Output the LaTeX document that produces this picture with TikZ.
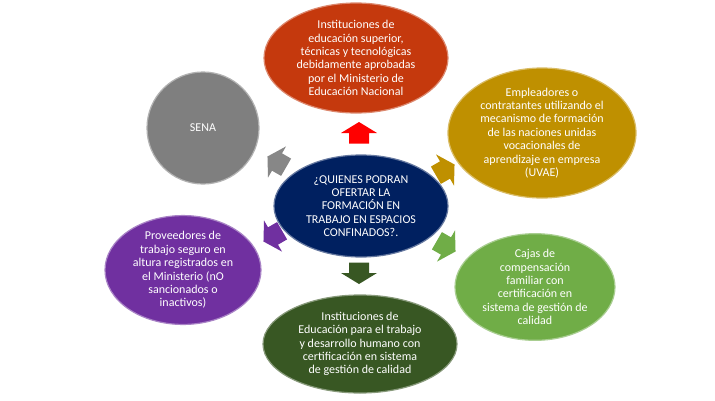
\documentclass[tikz,border=0pt]{standalone}
\usepackage{fontspec}
\setmainfont{Carlito}
\usetikzlibrary{shapes.geometric}
\definecolor{cred}{RGB}{197,57,13}
\definecolor{cgold}{RGB}{191,144,0}
\definecolor{cnavy}{RGB}{0,32,96}
\definecolor{cgrey}{RGB}{127,127,127}
\definecolor{cagrey}{RGB}{135,135,135}
\definecolor{cpurple}{RGB}{112,48,160}
\definecolor{clgreen}{RGB}{112,173,71}
\definecolor{cdgreen}{RGB}{56,87,35}
\definecolor{cbred}{RGB}{255,0,0}
\tikzset{
  bubble/.style={ellipse, draw=#1!60!white, line width=1.2pt, fill=#1, text=white, align=center, inner sep=0pt,
     font=\fontsize{12}{13.4}\selectfont},
  blockarrow/.pic={\fill[pic actions] (-10.5,-10) -- (0,-10) -- (0,-18) -- (11,0) -- (0,18) -- (0,10) -- (-10.5,10) -- cycle;}
}
\begin{document}
\begin{tikzpicture}[x=1pt,y=1pt]
\useasboundingbox (0,0) rectangle (715,-400);
\fill[white] (0,0) rectangle (715,-400);
% ellipses
\node[bubble=cred, minimum width=184pt, minimum height=110pt] (red) at (356,-58) {Instituciones de\\educación superior,\\técnicas y tecnológicas\\debidamente aprobadas\\por el Ministerio de\\Educación Nacional};
\node[bubble=cgold, minimum width=188pt, minimum height=130pt] (gold) at (542,-133) {Empleadores o\\contratantes utilizando el\\mecanismo de formación\\de las naciones unidas\\vocacionales de\\aprendizaje en empresa\\(UVAE)};
\node[bubble=cnavy, minimum width=174pt, minimum height=102pt] (center) at (361,-206) {¿QUIENES PODRAN\\OFERTAR LA\\FORMACIÓN EN\\TRABAJO EN ESPACIOS\\CONFINADOS?.};
\node[bubble=cgrey, circle, minimum size=112pt] (sena) at (203,-128) {SENA};
\node[bubble=cpurple, minimum width=156pt, minimum height=100pt] (purple) at (183,-270) {Proveedores de\\trabajo seguro en\\altura registrados en\\el Ministerio (nO\\sancionados o\\inactivos)};
\node[bubble=clgreen, minimum width=160pt, minimum height=106pt] (lgreen) at (535,-287) {Cajas de\\compensación\\familiar con\\certificación en\\sistema de gestión de\\calidad};
\node[bubble=cdgreen, minimum width=194pt, minimum height=98pt] (dgreen) at (360,-344) {Instituciones de\\Educación para el trabajo\\y desarrollo humano con\\certificación en sistema\\de gestión de calidad};
% arrows
\pic[fill=cbred, rotate=90] (a1) at (359,-133) {blockarrow};
\pic[fill=cgold, rotate=30] (a2) at (445,-170) {blockarrow};
\pic[fill=clgreen, rotate=-30] (a3) at (446,-246) {blockarrow};
\pic[fill=cdgreen, rotate=-90] (a4) at (359,-273) {blockarrow};
\pic[fill=cpurple, rotate=210] (a5) at (273,-236) {blockarrow};
\pic[fill=cagrey, rotate=150] (a6) at (277,-162) {blockarrow};
\end{tikzpicture}
\end{document}
